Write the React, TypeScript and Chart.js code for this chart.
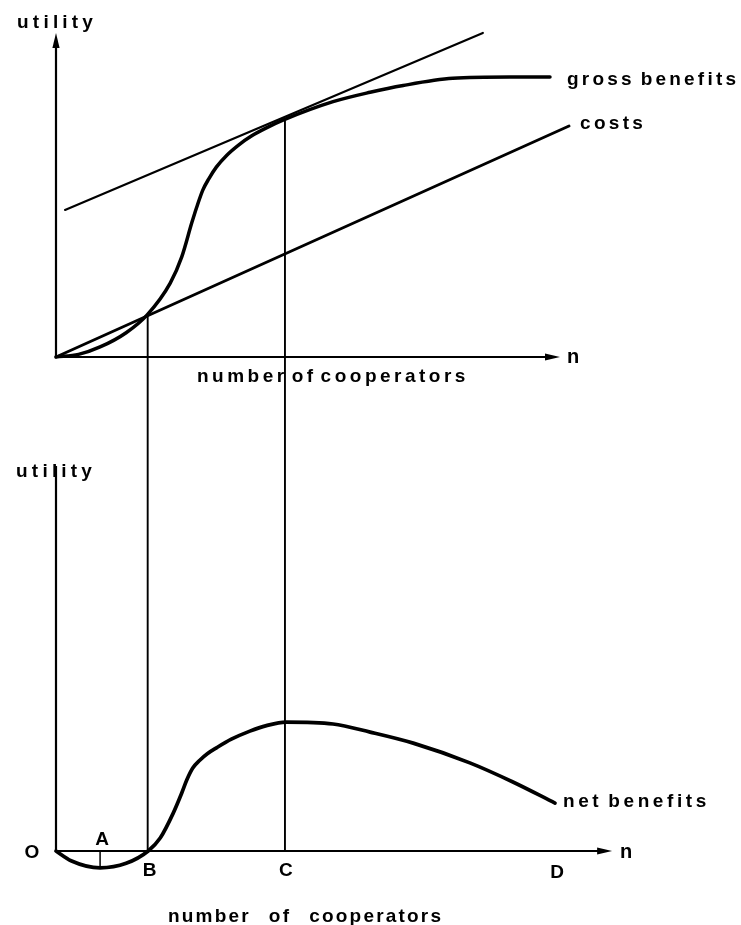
import React, { useEffect, useRef } from 'react';
import { Chart, registerables } from 'chart.js';

Chart.register(...registerables);

// ---------- data (n = number of cooperators, u = utility) ----------
// top panel: gross benefits S-curve
const grossN = [0, 0.45, 0.88, 1.40, 1.82, 2.28, 2.51, 2.71, 2.81, 2.93, 3.05, 3.20, 3.41, 3.65, 3.90, 4.21, 4.53, 5.53, 6.27, 6.93, 7.92, 9.06, 9.86];
const grossU = [0, 0.08, 0.31, 0.75, 1.30, 2.28, 3.09, 4.14, 4.63, 5.15, 5.50, 5.86, 6.23, 6.55, 6.82, 7.08, 7.31, 7.88, 8.17, 8.38, 8.60, 8.64, 8.64];
// top panel: costs line
const costN = [0, 10.24];
const costU = [0, 7.13];
// top panel: line parallel to costs, tangent to gross benefits at C
const tangentN = [0.18, 8.52];
const tangentU = [4.54, 10.0];
// bottom panel: net benefits
const netN = [0, 0.30, 0.88, 1.40, 1.84, 2.08, 2.34, 2.51, 2.61, 2.73, 2.87, 3.02, 3.21, 3.50, 3.87, 4.20, 4.59, 5.53, 6.27, 7.13, 8.26, 9.12, 9.96];
const netV = [0, -0.30, -0.52, -0.38, 0, 0.40, 1.17, 1.79, 2.19, 2.56, 2.80, 3.00, 3.19, 3.45, 3.70, 3.87, 3.98, 3.92, 3.67, 3.33, 2.72, 2.13, 1.48];
// marked points on the n axis
const pointLabels = ['O', 'A', 'B', 'C', 'D'];
const pointN = [0, 0.88, 1.83, 4.57, 10];
const minimumA = -0.52; // net benefit at A
const grossAtB = 1.30; // gross benefits = costs at B
const grossAtC = 7.31; // tangent point at C
// axis extents
const topAxisEnd = { n: 10.06, u: 10.0 };
const bottomAxisEnd = { n: 11.1, v: 11.88 };

// ---------- layout ----------
const W = 741;
const H = 925;
const X_ORIGIN = 56;
const X_PX = 50.1;
const TOP_ORIGIN = 357;
const BOT_ORIGIN = 851;
const Y_PX = 32.4;
const INK = '#000000';
const FONT = '"Liberation Sans", Arial, Helvetica, sans-serif';

const pts = (xs: number[], ys: number[]) => xs.map((x, i) => ({ x, y: ys[i] }));

function spaced(ctx: CanvasRenderingContext2D, text: string, x: number, y: number, sp: number, spaceW: number, align: 'left' | 'center' = 'left') {
  const chars = Array.from(text);
  const widths = chars.map((c) => (c === ' ' ? spaceW : ctx.measureText(c).width + sp));
  const total = widths.reduce((a, b) => a + b, 0) - sp;
  let cx = align === 'center' ? x - total / 2 : x;
  ctx.textAlign = 'left';
  chars.forEach((c, i) => {
    if (c !== ' ') ctx.fillText(c, cx, y);
    cx += widths[i];
  });
}

function arrow(ctx: CanvasRenderingContext2D, tx: number, ty: number, dx: number, dy: number) {
  const len = 15;
  const hw = 3.6;
  const bx = tx - dx * len;
  const by = ty - dy * len;
  ctx.beginPath();
  ctx.moveTo(tx, ty);
  ctx.lineTo(bx - dy * hw, by + dx * hw);
  ctx.lineTo(bx + dy * hw, by - dx * hw);
  ctx.closePath();
  ctx.fill();
}

function seg(ctx: CanvasRenderingContext2D, x1: number, y1: number, x2: number, y2: number, w: number) {
  ctx.lineWidth = w;
  ctx.beginPath();
  ctx.moveTo(x1, y1);
  ctx.lineTo(x2, y2);
  ctx.stroke();
}

const diagramPlugin = {
  id: 'diagramOverlay',
  afterDatasetsDraw(chart: any) {
    const { ctx, scales } = chart;
    const px = (n: number) => scales.x.getPixelForValue(n);
    const yt = (u: number) => scales.yTop.getPixelForValue(u);
    const yb = (v: number) => scales.yBot.getPixelForValue(v);
    ctx.save();
    ctx.strokeStyle = INK;
    ctx.fillStyle = INK;
    ctx.lineCap = 'butt';

    // top axes
    seg(ctx, px(0), yt(0), px(0), yt(topAxisEnd.u) + 10, 2.2);
    arrow(ctx, px(0), yt(topAxisEnd.u), 0, -1);
    seg(ctx, px(0), yt(0), px(topAxisEnd.n) - 10, yt(0), 2.2);
    arrow(ctx, px(topAxisEnd.n), yt(0), 1, 0);

    // bottom axes
    seg(ctx, px(0), yb(0), px(0), yb(bottomAxisEnd.v), 2.2);
    seg(ctx, px(0), yb(0), px(bottomAxisEnd.n) - 10, yb(0), 2.2);
    arrow(ctx, px(bottomAxisEnd.n), yb(0), 1, 0);

    // connectors B and C
    seg(ctx, px(pointN[2]), yt(grossAtB), px(pointN[2]), yb(0), 1.9);
    seg(ctx, px(pointN[3]), yt(grossAtC), px(pointN[3]), yb(0), 1.9);
    // marker at A
    seg(ctx, px(pointN[1]), yb(0), px(pointN[1]), yb(minimumA), 1.5);

    // texts
    ctx.textBaseline = 'alphabetic';
    ctx.font = `bold 19px ${FONT}`;
    spaced(ctx, 'utility', px(0) - 1, yt(topAxisEnd.u) - 5, 4.2, 6, 'center');
    spaced(ctx, 'utility', px(0) - 2, yb(bottomAxisEnd.v) + 11, 4.2, 6, 'center');
    spaced(ctx, 'gross benefits', px(grossN[grossN.length - 1]) + 17, yt(grossU[grossU.length - 1]) + 8, 3.2, 6);
    spaced(ctx, 'costs', px(costN[1]) + 11, yt(costU[1]) + 3, 3.3, 6);
    spaced(ctx, 'net benefits', px(netN[netN.length - 1]) + 8, yb(netV[netV.length - 1]) + 4, 3.6, 6);
    spaced(ctx, 'number of cooperators', px(0) + 141, yt(0) + 25, 3.5, 4);
    spaced(ctx, 'number  of  cooperators', px(0) + 112, yb(0) + 71, 2.2, 9);
    ctx.font = `bold 20px ${FONT}`;
    spaced(ctx, 'n', px(topAxisEnd.n) + 7, yt(0) + 6, 0, 0);
    spaced(ctx, 'n', px(bottomAxisEnd.n) + 8, yb(0) + 7, 0, 0);

    // point letters
    ctx.font = `bold 19px ${FONT}`;
    ctx.textAlign = 'center';
    const cap = 6.8;
    ctx.fillText(pointLabels[0], px(pointN[0]) - 24, yb(0) + cap);
    ctx.fillText(pointLabels[1], px(pointN[1]) + 2, yb(0) - 13 + cap);
    ctx.fillText(pointLabels[2], px(pointN[2]) + 2, yb(0) + 18 + cap);
    ctx.fillText(pointLabels[3], px(pointN[3]) + 1, yb(0) + 18 + cap);
    ctx.fillText(pointLabels[4], px(pointN[4]), yb(0) + 20 + cap);
    ctx.restore();
  },
};

export default function App() {
  const ref = useRef<HTMLCanvasElement | null>(null);

  useEffect(() => {
    if (!ref.current) return;
    const chart = new Chart(ref.current, {
      type: 'line',
      data: {
        datasets: [
          { label: 'gross benefits', data: pts(grossN, grossU), yAxisID: 'yTop', borderColor: INK, borderWidth: 3.5, cubicInterpolationMode: 'monotone', pointRadius: 0, fill: false },
          { label: 'costs', data: pts(costN, costU), yAxisID: 'yTop', borderColor: INK, borderWidth: 2.9, pointRadius: 0, fill: false },
          { label: 'tangent', data: pts(tangentN, tangentU), yAxisID: 'yTop', borderColor: INK, borderWidth: 2.2, pointRadius: 0, fill: false },
          { label: 'net benefits', data: pts(netN, netV), yAxisID: 'yBot', borderColor: INK, borderWidth: 3.7, cubicInterpolationMode: 'monotone', pointRadius: 0, fill: false },
        ],
      } as any,
      options: {
        animation: false,
        responsive: false,
        maintainAspectRatio: false,
        events: [],
        layout: { padding: 0 },
        plugins: { legend: { display: false }, tooltip: { enabled: false }, title: { display: false } },
        elements: { line: { borderCapStyle: 'round', borderJoinStyle: 'round' } },
        scales: {
          x: { type: 'linear', display: false, bounds: 'data', min: -X_ORIGIN / X_PX, max: (W - X_ORIGIN) / X_PX },
          yTop: { type: 'linear', display: false, bounds: 'data', min: -(H - TOP_ORIGIN) / Y_PX, max: TOP_ORIGIN / Y_PX },
          yBot: { type: 'linear', display: false, bounds: 'data', min: -(H - BOT_ORIGIN) / Y_PX, max: BOT_ORIGIN / Y_PX },
        },
      } as any,
      plugins: [diagramPlugin],
    });
    return () => chart.destroy();
  }, []);

  return (
    <div style={{ position: 'fixed', left: 0, top: 0, width: W, height: H, background: '#ffffff' }}>
      <canvas ref={ref} width={W} height={H} style={{ display: 'block' }} />
    </div>
  );
}
